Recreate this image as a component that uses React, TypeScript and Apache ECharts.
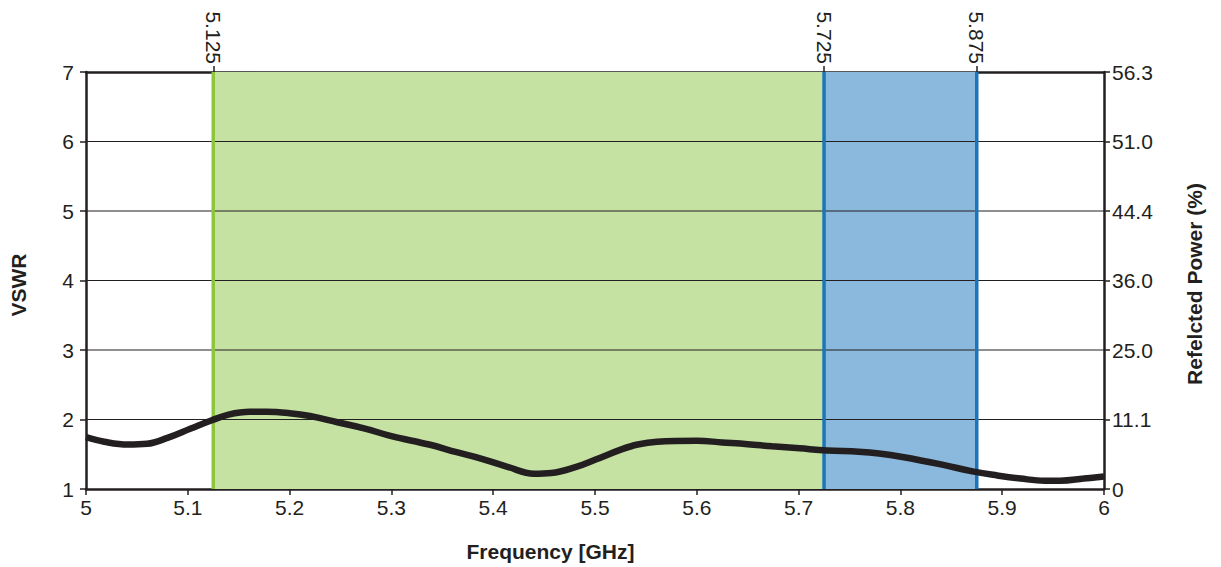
import React, { useEffect, useRef } from "react";
import * as echarts from "echarts";

const freq = [5.0, 5.018, 5.041, 5.06, 5.08, 5.103, 5.123, 5.14, 5.161, 5.177, 5.2, 5.22, 5.247, 5.274, 5.3, 5.337, 5.364, 5.383, 5.414, 5.44, 5.457, 5.48, 5.5, 5.526, 5.542, 5.561, 5.6, 5.625, 5.65, 5.674, 5.701, 5.728, 5.759, 5.779, 5.802, 5.841, 5.872, 5.895, 5.918, 5.942, 5.957, 5.98, 6.0];
const vswr = [1.745, 1.68, 1.64, 1.65, 1.735, 1.87, 1.985, 2.07, 2.11, 2.11, 2.09, 2.05, 1.96, 1.87, 1.76, 1.64, 1.53, 1.46, 1.32, 1.22, 1.23, 1.31, 1.42, 1.57, 1.64, 1.68, 1.695, 1.67, 1.645, 1.615, 1.585, 1.555, 1.535, 1.51, 1.46, 1.35, 1.25, 1.195, 1.15, 1.12, 1.12, 1.15, 1.18];
const gridValues = [2, 3, 4, 5, 6];
const rightTickLabels = ["0", "11.1", "25.0", "36.0", "44.4", "51.0", "56.3"];
const bandEdges = [5.125, 5.725, 5.875];
const bandEdgeColors = ["#8cc63f", "#1b75bb", "#1b75bb"];
const greenBand = [5.125, 5.725];
const blueBand = [5.725, 5.875];

const TXT = "#231f20";
const FONT = "'Liberation Sans', Arial, Helvetica, sans-serif";
const FS = 21;

export default function App() {
  const ref = useRef<HTMLDivElement>(null);
  useEffect(() => {
    document.body.style.margin = "0";
    const chart = echarts.init(ref.current!, null, { renderer: "svg" });
    const lbl = { color: TXT, fontSize: FS, fontFamily: FONT };
    const plain = { type: "line", silent: true, symbol: "none", xAxisIndex: 0, yAxisIndex: 0 };
    chart.setOption({
      animation: false,
      textStyle: { fontFamily: FONT, color: TXT, fontSize: FS },
      grid: { left: 85, right: 117, top: 72, bottom: 76 },
      xAxis: [
        {
          type: "value",
          min: 5,
          max: 6,
          interval: 0.1,
          position: "bottom",
          name: "Frequency [GHz]",
          nameLocation: "middle",
          nameGap: 52,
          nameTextStyle: { ...lbl, fontSize: 21, fontWeight: "bold", padding: [0, 89, 0, 0] },
          axisLine: { show: true, lineStyle: { color: TXT, width: 2.5 } },
          axisTick: { show: true, length: 6, lineStyle: { color: TXT, width: 1.5 } },
          axisLabel: { ...lbl, margin: 8, formatter: (v: number) => String(Math.round(v * 10) / 10) },
          splitLine: { show: false },
        },
        {
          type: "value",
          min: 5,
          max: 6,
          position: "top",
          axisLine: { show: true, lineStyle: { color: TXT, width: 2.5 } },
          axisTick: { show: true, length: 6, customValues: bandEdges, lineStyle: { color: TXT, width: 1.5 } },
          axisLabel: { ...lbl, rotate: 90, margin: 8, customValues: bandEdges, formatter: (v: number) => v.toFixed(3) },
          splitLine: { show: false },
        },
      ],
      yAxis: [
        {
          type: "value",
          min: 1,
          max: 7,
          interval: 1,
          position: "left",
          name: "VSWR",
          nameLocation: "middle",
          nameGap: 57,
          nameRotate: 90,
          nameTextStyle: { ...lbl, fontSize: 21, fontWeight: "bold", padding: [0, 9, 0, 0] },
          axisLine: { show: true, lineStyle: { color: TXT, width: 2.5 } },
          axisTick: { show: true, length: 6, lineStyle: { color: TXT, width: 1.5 } },
          axisLabel: { ...lbl, margin: 12 },
          splitLine: { show: false },
        },
        {
          type: "value",
          min: 1,
          max: 7,
          interval: 1,
          position: "right",
          name: "Refelcted Power (%)",
          nameLocation: "middle",
          nameGap: 80,
          nameRotate: 90,
          nameTextStyle: { ...lbl, fontSize: 21, fontWeight: "bold", padding: [0, 7, 0, 0] },
          axisLine: { show: true, lineStyle: { color: TXT, width: 2.5 } },
          axisTick: { show: true, length: 6, lineStyle: { color: TXT, width: 1.5 } },
          axisLabel: { ...lbl, margin: 8, formatter: (v: number) => rightTickLabels[Math.round(v) - 1] },
          splitLine: { show: false },
        },
      ],
      series: [
        {
          ...plain,
          z: 1,
          data: [],
          markArea: {
            silent: true,
            data: [
              [{ xAxis: greenBand[0], itemStyle: { color: "#c6e2a2" } }, { xAxis: greenBand[1] }],
              [{ xAxis: blueBand[0], itemStyle: { color: "#8ab9dd" } }, { xAxis: blueBand[1] }],
            ],
          },
        },
        ...gridValues.map((v) => ({
          ...plain,
          z: 2,
          lineStyle: { color: TXT, width: 1.2 },
          data: [[5, v], [6, v]],
        })),
        ...bandEdges.map((e, i) => ({
          ...plain,
          z: 3,
          lineStyle: { color: bandEdgeColors[i], width: 3.5 },
          data: [[e, 1], [e, 7]],
        })),
        {
          ...plain,
          z: 4,
          smooth: 0.4,
          lineStyle: { color: TXT, width: 6.5 },
          data: freq.map((f, i) => [f, vswr[i]]),
        },
      ],
    });
    return () => chart.dispose();
  }, []);
  return <div ref={ref} style={{ width: 1221, height: 567, position: "absolute", left: 0, top: 0 }} />;
}
